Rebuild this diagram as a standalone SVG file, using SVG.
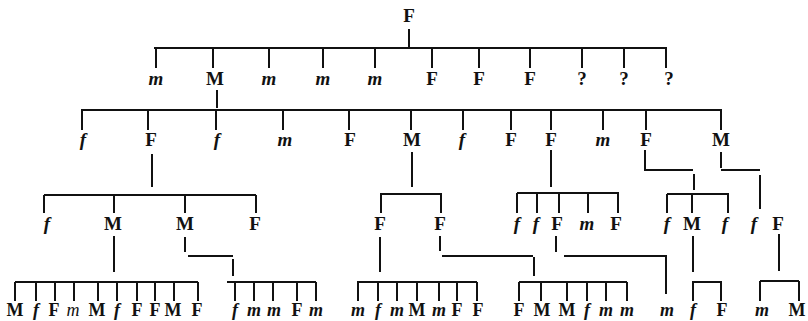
<svg xmlns="http://www.w3.org/2000/svg" width="808" height="321" viewBox="0 0 808 321">
<style>
.l{font-family:"Liberation Serif",serif;font-size:19px;font-weight:bold;text-anchor:middle;fill:#111}
.i{font-style:italic}
.n{font-weight:normal}
.s{font-size:18px}
.c{stroke:#111;stroke-width:2;fill:none;stroke-linecap:butt}
</style>
<rect width="808" height="321" fill="#fff"/>
<g id="connectors" class="c">
<path d="M409,29V47M154,48H667M156,48V68M213,49V68M269,49V68M323,49V68M375,49V68M432,49V68M479,49V68M530,49V68M582,49V68M624,49V68M666,48V68"/>
<path d="M217,90V108M81,110H722M82,110V130M148,111V130M216,111V130M283,111V130M349,111V130M411,111V130M463,111V130M511,111V130M551,111V130M603,111V130M646,111V130M721,110V130"/>
<path d="M152,154V187M44,195H256M44,195V213M114,196V213M185,196V213M256,195V213"/>
<path d="M412,152V187M380,194H442M381,194V213M441,194V213"/>
<path d="M551,150V187M517,193H619M517,193V213M537,194V213M559,194V213M588,194V213M618,193V213"/>
<path d="M645,150V170H693M694,174V190M667,194H729M667,194V213M692,195V213M728,194V213"/>
<path d="M721,152V168M721,170H760M760,175V209"/>
<path d="M114,236V272M15,282H198M15,282V301M36,283V301M55,283V301M74,283V301M98,283V301M117,283V301M137,283V301M155,283V301M174,283V301M198,282V301"/>
<path d="M185,237V252M188,256H233M233,259V276M227,282H316M235,283V301M254,283V301M273,283V301M297,283V301M316,282V301"/>
<path d="M380,237V272M357,282H477M358,282V301M378,283V301M397,283V301M417,283V301M439,283V301M457,283V301M477,282V301"/>
<path d="M440,236V251M442,256H533M534,257V276M519,282H627M519,282V301M541,283V301M567,283V301M587,283V301M606,283V301M627,282V301"/>
<path d="M556,236V252M564,256H667M666,257V294"/>
<path d="M693,236V272M692,282H722M693,282V301M721,282V301"/>
<path d="M779,234V271M760,281H799M760,281V301M799,281V301"/>
</g>
<g id="n0"><text class="l" x="409" y="22">F</text></g>
<g id="row1">
<g id="r1a"><text class="l i" x="156" y="85">m</text></g>
<g id="r1b"><text class="l" x="215" y="85">M</text></g>
<g id="r1c"><text class="l i" x="269" y="85">m</text></g>
<g id="r1d"><text class="l i" x="323" y="85">m</text></g>
<g id="r1e"><text class="l i" x="375" y="85">m</text></g>
<g id="r1f"><text class="l" x="432" y="85">F</text></g>
<g id="r1g"><text class="l" x="479" y="85">F</text></g>
<g id="r1h"><text class="l" x="530" y="85">F</text></g>
<g id="r1i"><text class="l" x="582" y="85">?</text></g>
<g id="r1j"><text class="l" x="624" y="85">?</text></g>
<g id="r1k"><text class="l" x="669" y="85">?</text></g>
</g>
<g id="row2">
<g id="r2a"><text class="l i" x="83" y="146">f</text></g>
<g id="r2b"><text class="l" x="151" y="146">F</text></g>
<g id="r2c"><text class="l i" x="217" y="146">f</text></g>
<g id="r2d"><text class="l i" x="285" y="146">m</text></g>
<g id="r2e"><text class="l" x="350" y="146">F</text></g>
<g id="r2f"><text class="l" x="412" y="146">M</text></g>
<g id="r2g"><text class="l i" x="462" y="146">f</text></g>
<g id="r2h"><text class="l" x="511" y="146">F</text></g>
<g id="r2i"><text class="l" x="551" y="146">F</text></g>
<g id="r2j"><text class="l i" x="603" y="146">m</text></g>
<g id="r2k"><text class="l" x="646" y="146">F</text></g>
<g id="r2l"><text class="l" x="721" y="146">M</text></g>
</g>
<g id="row3">
<g id="r3a"><text class="l i" x="47" y="230">f</text></g>
<g id="r3b"><text class="l" x="113" y="230">M</text></g>
<g id="r3c"><text class="l" x="185" y="230">M</text></g>
<g id="r3d"><text class="l" x="255" y="230">F</text></g>
<g id="r3e"><text class="l" x="380" y="230">F</text></g>
<g id="r3f"><text class="l" x="440" y="230">F</text></g>
<g id="r3g"><text class="l i" x="517" y="230">f</text></g>
<g id="r3h"><text class="l i" x="536" y="230">f</text></g>
<g id="r3i"><text class="l" x="557" y="230">F</text></g>
<g id="r3j"><text class="l i" x="587" y="230">m</text></g>
<g id="r3k"><text class="l" x="616" y="230">F</text></g>
<g id="r3l"><text class="l i" x="667" y="230">f</text></g>
<g id="r3m"><text class="l" x="692" y="230">M</text></g>
<g id="r3n"><text class="l i" x="725" y="230">f</text></g>
<g id="r3o"><text class="l i" x="754" y="230">f</text></g>
<g id="r3p"><text class="l" x="778" y="230">F</text></g>
</g>
<g id="row4">
<g id="r4a1"><text class="l s" x="15" y="316">M</text></g>
<g id="r4a2"><text class="l s i" x="36" y="316">f</text></g>
<g id="r4a3"><text class="l s" x="54" y="316">F</text></g>
<g id="r4a4"><text class="l s i n" x="73" y="316">m</text></g>
<g id="r4a5"><text class="l s" x="97" y="316">M</text></g>
<g id="r4a6"><text class="l s i" x="117" y="316">f</text></g>
<g id="r4a7"><text class="l s" x="137" y="316">F</text></g>
<g id="r4a8"><text class="l s" x="155" y="316">F</text></g>
<g id="r4a9"><text class="l s" x="173" y="316">M</text></g>
<g id="r4a10"><text class="l s" x="197" y="316">F</text></g>
<g id="r4b1"><text class="l s i" x="235" y="316">f</text></g>
<g id="r4b2"><text class="l s i" x="254" y="316">m</text></g>
<g id="r4b3"><text class="l s i" x="274" y="316">m</text></g>
<g id="r4b4"><text class="l s" x="297" y="316">F</text></g>
<g id="r4b5"><text class="l s i" x="316" y="316">m</text></g>
<g id="r4c1"><text class="l s i" x="358" y="316">m</text></g>
<g id="r4c2"><text class="l s i" x="378" y="316">f</text></g>
<g id="r4c3"><text class="l s i" x="397" y="316">m</text></g>
<g id="r4c4"><text class="l s" x="417" y="316">M</text></g>
<g id="r4c5"><text class="l s i" x="439" y="316">m</text></g>
<g id="r4c6"><text class="l s" x="457" y="316">F</text></g>
<g id="r4c7"><text class="l s" x="478" y="316">F</text></g>
<g id="r4d1"><text class="l s" x="519" y="316">F</text></g>
<g id="r4d2"><text class="l s" x="542" y="316">M</text></g>
<g id="r4d3"><text class="l s" x="567" y="316">M</text></g>
<g id="r4d4"><text class="l s i" x="587" y="316">f</text></g>
<g id="r4d5"><text class="l s i" x="606" y="316">m</text></g>
<g id="r4d6"><text class="l s i" x="627" y="316">m</text></g>
<g id="r4e"><text class="l s i" x="667" y="316">m</text></g>
<g id="r4f1"><text class="l s i" x="693" y="316">f</text></g>
<g id="r4f2"><text class="l s" x="722" y="316">F</text></g>
<g id="r4g1"><text class="l s i" x="762" y="316">m</text></g>
<g id="r4g2"><text class="l s" x="797" y="316">M</text></g>
</g>
</svg>
